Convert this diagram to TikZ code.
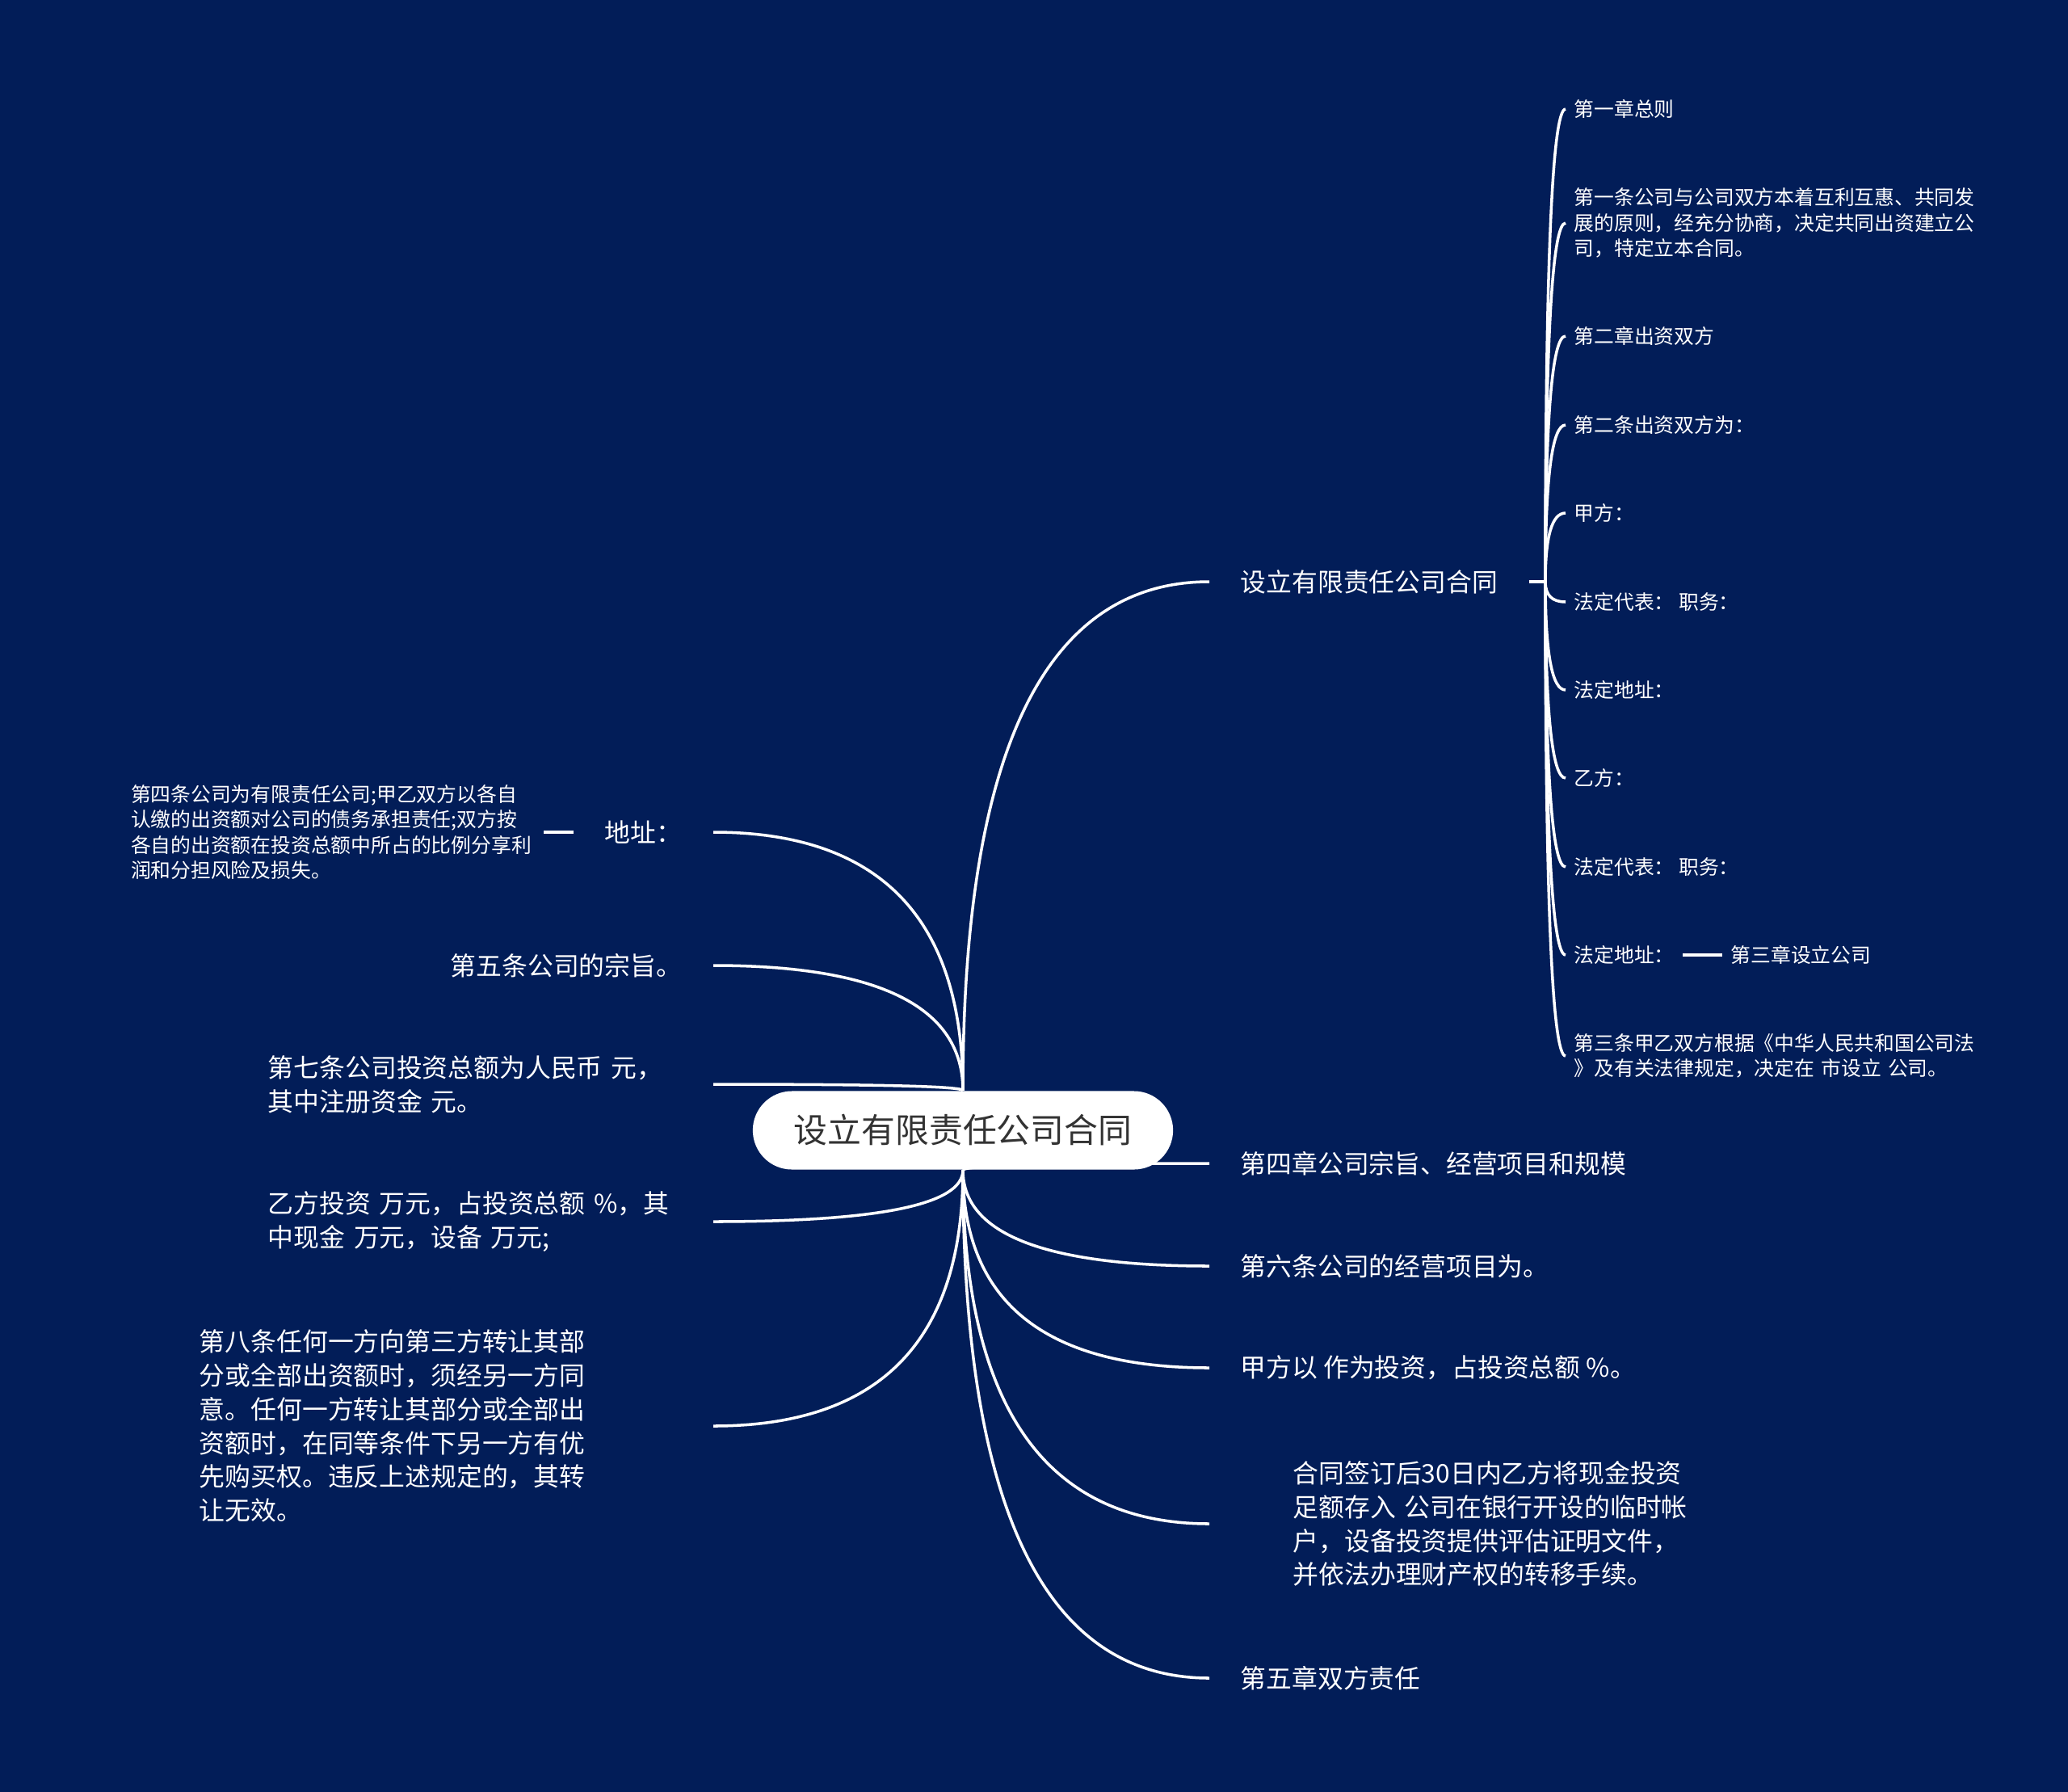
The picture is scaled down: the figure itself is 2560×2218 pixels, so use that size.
\documentclass[tikz,border=0pt]{standalone}
\usepackage{fontspec}
\setmainfont{Noto Sans CJK SC}
\usepackage{xcolor}
\usetikzlibrary{calc}
\definecolor{navybg}{RGB}{2,29,88}
\definecolor{rootink}{RGB}{51,51,51}
\pgfdeclarelayer{back}
\pgfdeclarelayer{edges}
\pgfsetlayers{back,edges,main}

\begin{document}
\begin{tikzpicture}[x=0.01cm, y=-0.01cm,
    topic/.style={text=white, inner xsep=0.38cm, inner ysep=0.06cm,
        font=\fontsize{9.05pt}{11.9pt}\selectfont},
    leaf/.style={text=white, inner xsep=0.1cm, inner ysep=0.05cm,
        font=\fontsize{7.05pt}{8.9pt}\selectfont},
    rootbox/.style={fill=white, text=rootink, rounded corners=0.485cm,
        minimum width=5.2cm, minimum height=0.97cm,
        font=\fontsize{11.9pt}{14pt}\selectfont},
    branch/.style={white, line width=1pt, to path={
        .. controls ($(\tikztostart)!0.667!(\tikztostart |- \tikztotarget)$)
        and ($(\tikztotarget)!0.667!(\tikztostart |- \tikztotarget)$)
        .. (\tikztotarget)}},
    link/.style={white, line width=1pt}]

    \begin{pgfonlayer}{back}
        \fill[navybg] (0,0) rectangle (2560,2218);
    \end{pgfonlayer}

    \node[rootbox] (root) at (1192,1399) {设立有限责任公司合同};

    \node[topic, anchor=east] (dizhi) at (883,1030) {地址：};
    \node[leaf, anchor=east, text width=5cm, align=left] (sitiao) at (673,1030)
        {第四条公司为有限责任公司;甲乙双方以各自\\认缴的出资额对公司的债务承担责任;双方按\\各自的出资额在投资总额中所占的比例分享利\\润和分担风险及损失。};
    \node[topic, anchor=east] (wutiao) at (883,1195) {第五条公司的宗旨。};
    \node[topic, anchor=east, text width=5.12cm, align=left] (qitiao) at (883,1342)
        {第七条公司投资总额为人民币 元，\\其中注册资金 元。};
    \node[topic, anchor=east, text width=5.12cm, align=left] (yitouzi) at (883,1512)
        {乙方投资 万元，占投资总额 \%，其\\中现金 万元，设备 万元;};
    \node[topic, anchor=east, text width=5.97cm, align=left] (batiao) at (883,1765)
        {第八条任何一方向第三方转让其部\\分或全部出资额时，须经另一方同\\意。任何一方转让其部分或全部出\\资额时，在同等条件下另一方有优\\先购买权。违反上述规定的，其转\\让无效。};

    \node[topic, anchor=west] (hetong) at (1497,720) {设立有限责任公司合同};
    \node[topic, anchor=west] (sizhang) at (1497,1440) {第四章公司宗旨、经营项目和规模};
    \node[topic, anchor=west] (liutiao) at (1497,1567) {第六条公司的经营项目为。};
    \node[topic, anchor=west] (jiatouzi) at (1497,1693) {甲方以 作为投资，占投资总额 \%。};
    \node[topic, anchor=west, inner xsep=1.03cm, text width=5cm, align=left] (qianding) at (1497,1886)
        {合同签订后30日内乙方将现金投资\\足额存入 公司在银行开设的临时帐\\户，设备投资提供评估证明文件，\\并依法办理财产权的转移手续。};
    \node[topic, anchor=west] (wuzhang) at (1497,2077) {第五章双方责任};

    \coordinate (fork) at (1913,720);
    \node[leaf, anchor=west] (zongze) at (1938,135) {第一章总则};
    \node[leaf, anchor=west, text width=5.3cm, align=left] (yitiao) at (1938,276)
        {第一条公司与公司双方本着互利互惠、共同发\\展的原则，经充分协商，决定共同出资建立公\\司，特定立本合同。};
    \node[leaf, anchor=west] (erzhang) at (1938,416) {第二章出资双方};
    \node[leaf, anchor=west] (ertiao) at (1938,526) {第二条出资双方为：};
    \node[leaf, anchor=west] (jia) at (1938,635) {甲方：};
    \node[leaf, anchor=west] (jiadaibiao) at (1938,745) {法定代表：\ 职务：};
    \node[leaf, anchor=west] (jiadizhi) at (1938,854) {法定地址：};
    \node[leaf, anchor=west] (yi) at (1938,963) {乙方：};
    \node[leaf, anchor=west] (yidaibiao) at (1938,1073) {法定代表：\ 职务：};
    \node[leaf, anchor=west] (yidizhi) at (1938,1182) {法定地址：};
    \node[leaf, anchor=west] (sanzhang) at (2132,1182) {第三章设立公司};
    \node[leaf, anchor=west, text width=5.3cm, align=left] (santiao) at (1938,1307)
        {第三条甲乙双方根据《中华人民共和国公司法\\》及有关法律规定，决定在 市设立 公司。};

    \begin{pgfonlayer}{edges}
        \foreach \n in {dizhi,wutiao,qitiao}
            \draw[branch] (root.north) to (\n.east);
        \foreach \n in {yitouzi,batiao}
            \draw[branch] (root.south) to (\n.east);
        \draw[branch] (root.north) to (hetong.west);
        \foreach \n in {sizhang,liutiao,jiatouzi,qianding,wuzhang}
            \draw[branch] (root.south) to (\n.west);
        \draw[link] (sitiao.east) -- (dizhi.west);
        \draw[link] (hetong.east) -- (fork);
        \foreach \n in {zongze,yitiao,erzhang,ertiao,jia,jiadaibiao,jiadizhi,yi,yidaibiao,yidizhi,santiao}
            \draw[branch] (fork) to (\n.west);
        \draw[link] (yidizhi.east) -- (sanzhang.west);
    \end{pgfonlayer}
\end{tikzpicture}
\end{document}
